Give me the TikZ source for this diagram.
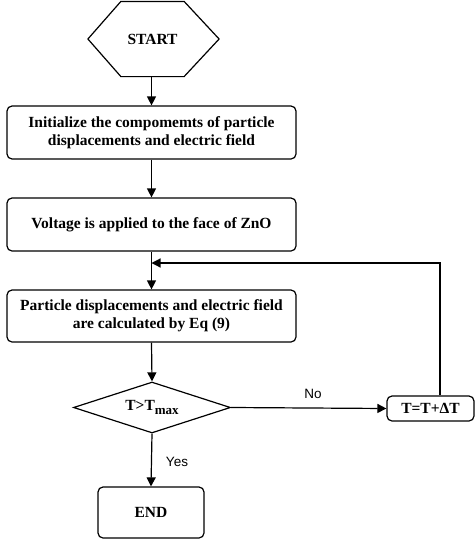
\documentclass[tikz,border=0pt]{standalone}
\usepackage{fontspec}
\setmainfont{Liberation Serif}[BoldFont={Liberation Serif Bold}]
\newfontfamily\labfont{Liberation Sans}
\usetikzlibrary{arrows.meta,shapes.geometric,calc}
\begin{document}
\begin{tikzpicture}[x=1pt,y=-1pt,
  line width=1.2pt,
  boxstyle/.style={draw,rounded corners=5pt,align=center,inner sep=0pt,
    font=\fontsize{15.5}{18}\selectfont\bfseries},
  textstyle/.style={inner sep=0pt,align=center,font=\fontsize{15.5}{18}\selectfont\bfseries},
  lab/.style={inner sep=0pt,font=\fontsize{13.5}{16}\selectfont\labfont},
  arr/.style={-{Triangle[length=9pt,width=9pt]}}]
\useasboundingbox (0,0) rectangle (476,541);
% START hexagon
\node[textstyle,minimum width=62pt,minimum height=74pt] (start) at (152.5,39) {START};
\draw ($(start.west)+(-33,0)$) -- (start.north west) -- (start.north east)
  -- ($(start.east)+(35,0)$) -- (start.south east) -- (start.south west) -- cycle;
\node[boxstyle,minimum width=289pt,minimum height=53pt] (init) at (151.5,132.5)
  {Initialize the compomemts of particle\\displacements and electric field};
\node[boxstyle,minimum width=289pt,minimum height=53pt] (volt) at (151.5,224.5)
  {Voltage is applied to the face of ZnO};
\node[boxstyle,minimum width=289pt,minimum height=52pt] (calc) at (151.5,316)
  {Particle displacements and electric field\\are calculated by Eq (9)};
\node[textstyle,draw,diamond,aspect=3,minimum width=157pt,minimum height=51pt] (dec) at (152,407.5)
  {T>T\raisebox{-0.5ex}{\fontsize{13}{15}\selectfont max}};
\node[boxstyle,minimum width=87pt,minimum height=25pt] (tbox) at (430.5,408.5) {T=T+ΔT};
\node[boxstyle,minimum width=106pt,minimum height=51pt] (endn) at (151,512.5) {END};
\coordinate (loopTop) at (440,263);
\draw[arr] (start.south -| init.north) -- (init.north);
\draw[arr] (init) -- (volt);
\draw[arr] (volt) -- (calc);
\draw[arr] (calc.south) -- (dec.north);
\draw[arr] (dec.east) -- (tbox.west);
\draw[arr] (dec.south) -- (endn.north);
\draw[arr] (tbox.north -| loopTop) -- (loopTop) -- (loopTop -| volt.south);
\node[lab] (no) at (313,394) {No};
\node[lab] (yes) at (177,462) {Yes};
\end{tikzpicture}
\end{document}
